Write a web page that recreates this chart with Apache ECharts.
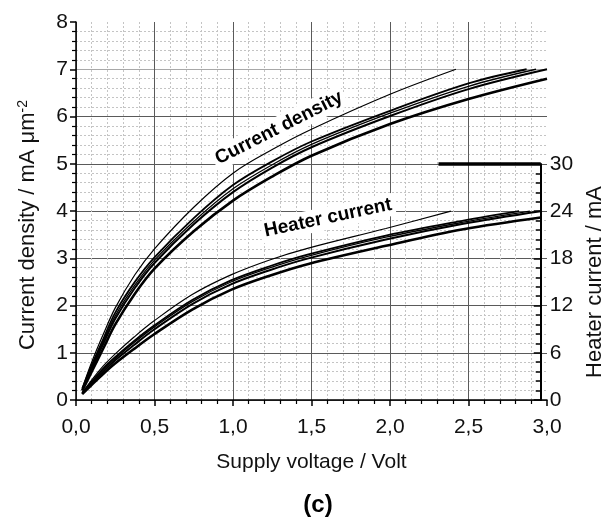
<!DOCTYPE html>
<html><head><meta charset="utf-8">
<script src="https://cdn.jsdelivr.net/npm/echarts@6/dist/echarts.min.js"></script>
<style>html,body{margin:0;padding:0;background:#fff}#c{width:614px;height:522px}</style>
</head><body><div id="c"></div>
<script>
// Current density curves [V, mA/µm²]
var cdThin  = [[0.04,0.25],[0.1,0.8],[0.175,1.4],[0.25,1.95],[0.375,2.65],[0.5,3.2],[0.75,4.08],[1.0,4.8],[1.25,5.3],[1.5,5.73],[2.0,6.47],[2.42,7.0]];
var cdA     = [[0.04,0.24],[0.1,0.74],[0.175,1.3],[0.25,1.85],[0.375,2.5],[0.5,3.02],[0.75,3.85],[1.0,4.55],[1.25,5.05],[1.5,5.47],[2.0,6.12],[2.5,6.7],[2.87,7.0]];
var cdB     = [[0.04,0.23],[0.1,0.7],[0.175,1.25],[0.25,1.78],[0.375,2.43],[0.5,2.96],[0.75,3.78],[1.0,4.47],[1.25,4.98],[1.5,5.41],[2.0,6.07],[2.5,6.64],[2.93,7.0]];
var cdC     = [[0.04,0.21],[0.1,0.66],[0.175,1.2],[0.25,1.72],[0.375,2.37],[0.5,2.9],[0.75,3.72],[1.0,4.4],[1.25,4.92],[1.5,5.35],[2.0,6.01],[2.5,6.58],[3.0,7.0]];
var cdThick = [[0.04,0.2],[0.1,0.6],[0.175,1.1],[0.25,1.6],[0.375,2.25],[0.5,2.78],[0.75,3.57],[1.0,4.22],[1.25,4.73],[1.5,5.17],[2.0,5.84],[2.5,6.37],[3.0,6.8]];
// Heater current curves [V, mA]
var htThin  = [[0.04,0.9],[0.1,2.5],[0.175,4.3],[0.25,5.8],[0.375,8.0],[0.5,10.0],[0.75,13.4],[1.0,15.9],[1.25,17.8],[1.5,19.3],[2.0,21.8],[2.42,24.0]];
var htA     = [[0.04,0.9],[0.1,2.3],[0.175,4.0],[0.25,5.4],[0.375,7.5],[0.5,9.4],[0.75,12.7],[1.0,15.2],[1.25,17.0],[1.5,18.5],[2.0,20.9],[2.5,22.8],[2.86,24.0]];
var htB     = [[0.04,0.85],[0.1,2.2],[0.175,3.8],[0.25,5.2],[0.375,7.3],[0.5,9.2],[0.75,12.5],[1.0,15.0],[1.25,16.8],[1.5,18.3],[2.0,20.7],[2.5,22.6],[2.93,24.0]];
var htC     = [[0.04,0.8],[0.1,2.1],[0.175,3.6],[0.25,5.0],[0.375,7.0],[0.5,8.9],[0.75,12.2],[1.0,14.7],[1.25,16.5],[1.5,18.0],[2.0,20.4],[2.5,22.4],[3.0,24.0]];
var htThick = [[0.04,0.75],[0.1,1.9],[0.175,3.3],[0.25,4.6],[0.375,6.5],[0.5,8.3],[0.75,11.5],[1.0,14.0],[1.25,15.8],[1.5,17.3],[2.0,19.6],[2.5,21.7],[3.0,23.2]];
// right axis cap (thick line at 30 mA)
var capStart = [2.34, 30], capEnd = [3.0, 30];
var labelCD = 'Current density', labelHT = 'Heater current';

var FONT = '"Liberation Sans", Arial, sans-serif';
var G = '#5a5a5a';
function fmt(v){ return v.toFixed(1).replace('.', ','); }
function line(data, w, xi){
  return {type:'line', data:data, xAxisIndex:xi, yAxisIndex:xi, showSymbol:false, symbol:'none',
    smooth:0.35, lineStyle:{color:'#000', width:w}, z:5, silent:true};
}
var chart = echarts.init(document.getElementById('c'), null, {renderer:'canvas'});
var series = [
  line(cdThin,1.2,0), line(cdA,1.8,0), line(cdB,1.3,0), line(cdC,2.0,0), line(cdThick,2.6,0),
  line(htThin,1.2,1), line(htA,1.8,1), line(htB,1.3,1), line(htC,2.0,1), line(htThick,2.6,1)
];
series[9].markLine = {silent:true, symbol:'none', label:{show:false},
  lineStyle:{color:'#000', width:3.5, type:'solid'},
  data:[[{coord:capStart},{coord:capEnd}]]};

chart.setOption({
  animation:false,
  backgroundColor:'#fff',
  textStyle:{fontFamily:FONT},
  grid:[
    {left:76, right:67, top:22, bottom:122, containLabel:false},
    {left:76, right:67, top:164, bottom:122, containLabel:false}
  ],
  xAxis:[
    {type:'value', gridIndex:0, min:0, max:3, interval:0.5,
     axisLine:{show:true, onZero:false, lineStyle:{color:'#000', width:1.5}},
     axisTick:{show:true, inside:false, length:6, lineStyle:{color:'#000', width:1.5}},
     minorTick:{show:true, splitNumber:5, length:4, lineStyle:{color:'#000', width:1.2}},
     axisLabel:{fontSize:21, color:'#111', margin:17, formatter:fmt, fontFamily:FONT},
     splitLine:{show:true, lineStyle:{color:[G,G,G,G,G,G,'rgba(0,0,0,0)'], width:1}},
     minorSplitLine:{show:true, lineStyle:{color:'#c4c4c4', width:1, type:[2,2]}},
     name:'Supply voltage / Volt', nameLocation:'middle', nameGap:52,
     nameTextStyle:{fontSize:21, color:'#111', fontFamily:FONT}},
    {type:'value', gridIndex:1, min:0, max:3, show:false}
  ],
  yAxis:[
    {type:'value', gridIndex:0, min:0, max:8, interval:1,
     axisLine:{show:true, onZero:false, lineStyle:{color:'#000', width:1.5}},
     axisTick:{show:true, inside:false, length:6, lineStyle:{color:'#000', width:1.5}},
     minorTick:{show:true, splitNumber:5, length:4, lineStyle:{color:'#000', width:1.2}},
     axisLabel:{fontSize:21, color:'#111', margin:8, fontFamily:FONT},
     splitLine:{show:true, lineStyle:{color:[G,G,G,G,G,G,G,'#a8a8a8','rgba(0,0,0,0)'], width:1}},
     minorSplitLine:{show:true, lineStyle:{color:'#c4c4c4', width:1, type:[2,2]}},
     name:'Current density / mA μm{sup|-2}', nameLocation:'middle', nameGap:36, nameRotate:90,
     nameTextStyle:{fontSize:22, color:'#111', fontFamily:FONT, padding:[0,28,0,0],
       rich:{sup:{fontSize:14, color:'#111', fontFamily:FONT, verticalAlign:'top', padding:[0,0,10,0]}}}},
    {type:'value', gridIndex:1, min:0, max:30, interval:6, position:'right',
     axisLine:{show:true, onZero:false, lineStyle:{color:'#000', width:2}},
     axisTick:{show:true, inside:true, length:7, lineStyle:{color:'#000', width:1.5}},
     minorTick:{show:true, splitNumber:5, length:5, lineStyle:{color:'#000', width:1.5}},
     axisLabel:{fontSize:21, color:'#111', margin:9, fontFamily:FONT},
     splitLine:{show:false},
     name:'Heater current / mA', nameLocation:'middle', nameGap:36, nameRotate:90,
     nameTextStyle:{fontSize:22, color:'#111', fontFamily:FONT}}
  ],
  graphic:[
    {type:'text', x:279, y:128, rotation:27*Math.PI/180, z:3,
     style:{text:labelCD, font:'bold 19px '+FONT, fill:'#000', align:'center', verticalAlign:'middle',
       backgroundColor:'#fff', padding:[2,3]}},
    {type:'text', x:328, y:218, rotation:12*Math.PI/180, z:3,
     style:{text:labelHT, font:'bold 19px '+FONT, fill:'#000', align:'center', verticalAlign:'middle',
       backgroundColor:'#fff', padding:[2,3]}},
    {type:'text', x:318, y:505, z:3,
     style:{text:'(c)', font:'bold 24px '+FONT, fill:'#000', align:'center', verticalAlign:'middle'}}
  ],
  series:series
});
</script></body></html>
